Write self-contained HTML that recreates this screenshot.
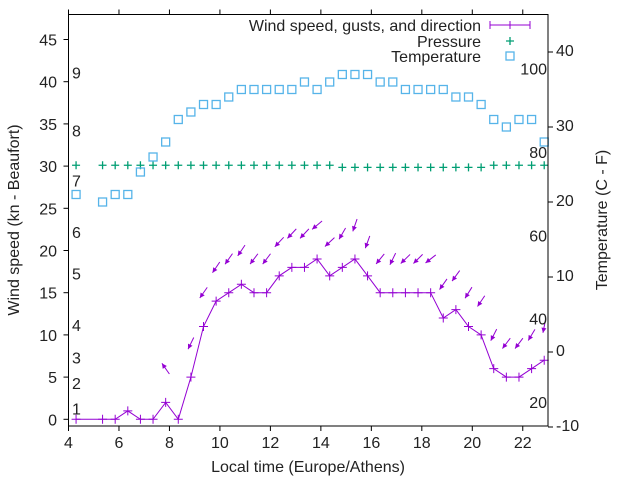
<!DOCTYPE html>
<html><head><meta charset="utf-8">
<style>
body{margin:0;background:#fff;}
svg{display:block;font-family:"Liberation Sans",sans-serif;}
</style></head>
<body>
<svg id="chart" width="640" height="480" viewBox="0 0 640 480" xmlns="http://www.w3.org/2000/svg">
<rect width="640" height="480" fill="#fff"/>
<g id="grid"></g>
<g id="marks"></g>
<g id="axes"></g>
</svg>
<script>
const times = [4.3,5.35,5.85,6.35,6.85,7.35,7.85,8.35,8.85,9.35,9.85,10.35,10.85,11.35,11.85,12.35,12.85,13.35,13.85,14.35,14.85,15.35,15.85,16.35,16.85,17.35,17.85,18.35,18.85,19.35,19.85,20.35,20.85,21.35,21.85,22.35,22.85];
const windSpeed = [0,0,0,1,0,0,2,0,5,11,14,15,16,15,15,17,18,18,19,17,18,19,17,15,15,15,15,15,12,13,11,10,6,5,5,6,7];
const gusts = [null,null,null,null,null,null,6,null,9,15,18,19,20,19,19,21,22,22,23,21,22,23,21,19,19,19,19,19,16,17,15,14,10,9,9,10,11];
const windDir = [null,null,null,null,null,null,145,null,26,35,34,35,34,37,37,43,43,43,50,47,30,19,20,39,26,46,45,52,35,36,32,34,27,37,37,31,11];
const pressure = [30.1,30.1,30.1,30.1,30.1,30.1,30.1,30.1,30.1,30.1,30.1,30.1,30.1,30.1,30.1,30.1,30.1,30.1,30.1,30.1,29.85,29.85,29.85,29.85,29.85,29.85,29.85,29.85,29.85,29.85,29.85,29.85,30.1,30.1,30.1,30.1,30.1];
const temperature = [21,20,21,21,24,26,28,31,32,33,33,34,35,35,35,35,35,36,35,36,37,37,37,36,36,35,35,35,35,34,34,33,31,30,31,31,28];
const xTicks = [4,6,8,10,12,14,16,18,20,22];
const yTicks = [0,5,10,15,20,25,30,35,40,45];
const y2Ticks = [-10,0,10,20,30,40];
const beaufortLabels = ["1","2","3","4","5","6","7","8","9"];
const beaufortPos = [1.3,4.3,7.3,11.2,17.3,22.2,28.3,34.2,41.1];
const fahrenheitLabels = [20,40,60,80,100];

const L=68.5,R=548,T=14.5,B=426;
const X=t=>L+(t-4)*(R-L)/19;
const Y=v=>419.3-v*8.44;
const Y2=c=>352-c*7.5;
const NS="http://www.w3.org/2000/svg";
function mk(tag,attrs,parent){const e=document.createElementNS(NS,tag);for(const k in attrs)e.setAttribute(k,attrs[k]);parent.appendChild(e);return e;}
const marks=document.getElementById('marks'),axes=document.getElementById('axes');
const purple="#9400d3",green="#009e73",blue="#56b4e9";

let d="";times.forEach((t,i)=>{d+=(i?"L":"M")+X(t).toFixed(1)+","+Y(windSpeed[i]).toFixed(1);});
const wl=mk('path',{d:d,fill:'none',stroke:purple,'stroke-width':1},marks);


times.forEach((t,i)=>{
  const x=X(t),y=Y(windSpeed[i]);
  const p=mk('path',{d:`M${x-4.5},${y}H${x+4.5}M${x},${y-4.5}V${y+4.5}`,stroke:purple,'stroke-width':1},marks);
  
  
});
times.forEach((t,i)=>{
  if(gusts[i]==null)return;
  const cx=X(t),cy=Y(gusts[i]);const a=windDir[i]*Math.PI/180;
  const ux=Math.sin(a),uy=-Math.cos(a);
  const len=13;
  const tx=cx+ux*len/2,ty=cy+uy*len/2,hx=cx-ux*len/2,hy=cy-uy*len/2;
  const g=mk('g',{},marks);
  
  
  mk('line',{x1:tx,y1:ty,x2:hx,y2:hy,stroke:purple,'stroke-width':1},g);
  const px=-uy,py=ux,h=5,w=2.5;
  const bx=hx+ux*h,by=hy+uy*h;
  mk('polygon',{points:`${hx},${hy} ${bx+px*w},${by+py*w} ${bx-px*w},${by-py*w}`,fill:purple},g);
});
times.forEach((t,i)=>{
  const x=X(t),y=Y(pressure[i]);
  const p=mk('path',{d:`M${x-4},${y}H${x+4}M${x},${y-4}V${y+4}`,stroke:green,'stroke-width':1.3},marks);
  
  
});
times.forEach((t,i)=>{
  const x=X(t),y=Y2(temperature[i]);
  const r=mk('rect',{x:x-4,y:y-4,width:8,height:8,fill:'none',stroke:blue,'stroke-width':1.3},marks);
  
  
});

const fr=mk('rect',{x:L,y:T,width:R-L,height:B-T,fill:'none',stroke:'#000','stroke-width':1},axes);


const fs=16;
xTicks.forEach(v=>{
  const x=X(v);
  mk('path',{d:`M${x},${B}v5M${x},${T}v-5`,stroke:'#000'},axes);
  const tx=mk('text',{x:x,y:B+22,'font-size':fs,'text-anchor':'middle',fill:'#222'},axes);tx.textContent=v;
  
  
});
yTicks.forEach(v=>{
  const y=Y(v);
  mk('path',{d:`M${L},${y}h-5`,stroke:'#000'},axes);
  const tx=mk('text',{x:57,y:y+6,'font-size':fs,'text-anchor':'end',fill:'#222'},axes);tx.textContent=v;
  
  
});
y2Ticks.forEach(v=>{
  const y=Y2(v);
  mk('path',{d:`M${R},${y}h5`,stroke:'#000'},axes);
  const tx=mk('text',{x:556,y:y+4,'font-size':fs,'text-anchor':'start',fill:'#222'},axes);tx.textContent=v;
  
  
});
beaufortLabels.forEach((s,i)=>{
  const tx=mk('text',{x:72,y:Y(beaufortPos[i])+6,'font-size':fs,fill:'#222'},axes);tx.textContent=s;
  
  
});
fahrenheitLabels.forEach(f=>{
  const c=(f-32)*5/9;
  const tx=mk('text',{x:547,y:Y2(c)+6,'font-size':fs,'text-anchor':'end',fill:'#222'},axes);tx.textContent=f;
  
  
});
</script>
<svg style="position:absolute;left:0;top:0" width="640" height="480">
<text x="308" y="472" font-size="16" text-anchor="middle" fill="#222" font-family="Liberation Sans, sans-serif">Local time (Europe/Athens)</text>
<text transform="translate(19,220) rotate(-90)" font-size="16" text-anchor="middle" fill="#222" font-family="Liberation Sans, sans-serif">Wind speed (kn - Beaufort)</text>
<text transform="translate(607,220) rotate(-90)" font-size="16" text-anchor="middle" fill="#222" font-family="Liberation Sans, sans-serif">Temperature (C - F)</text>
<g font-family="Liberation Sans, sans-serif" font-size="16" fill="#222">
<text x="481" y="31" text-anchor="end">Wind speed, gusts, and direction</text>
<path d="M490,25H530M490,21V29M510,21V29M530,21V29" stroke="#9400d3"/>
<text x="481" y="47" text-anchor="end">Pressure</text>
<path d="M506,41H514M510,37V45" stroke="#009e73" stroke-width="1.3"/>
<text x="481" y="62" text-anchor="end">Temperature</text>
<rect x="506" y="52" width="8" height="8" fill="none" stroke="#56b4e9" stroke-width="1.3"/>
</g>
</svg>
</body></html>
